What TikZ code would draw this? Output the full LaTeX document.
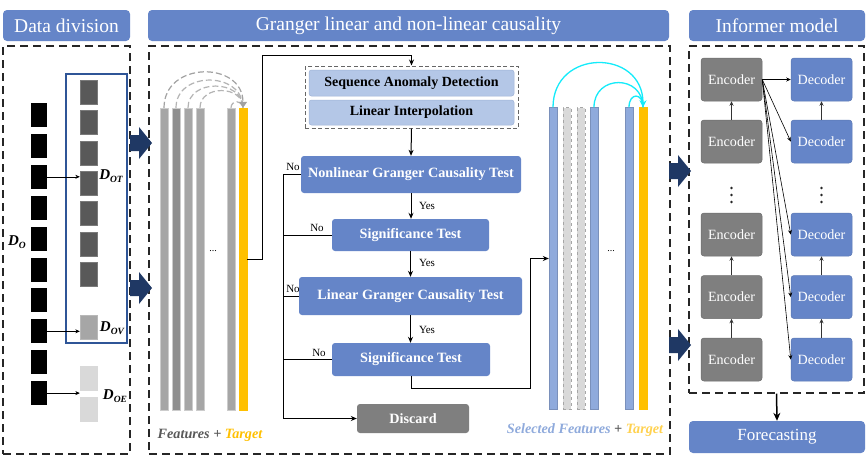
\documentclass[tikz,border=0pt]{standalone}
\usepackage{fontspec}
\setmainfont{Liberation Serif}
\usetikzlibrary{arrows.meta}
\definecolor{hdr}{RGB}{101,133,200}
\definecolor{navy}{RGB}{31,56,100}
\definecolor{lblue}{RGB}{180,199,231}
\definecolor{lbluedraw}{RGB}{160,180,215}
\definecolor{sblue}{RGB}{143,170,220}
\definecolor{gold}{RGB}{255,192,0}
\definecolor{goldl}{RGB}{255,210,80}
\definecolor{encg}{RGB}{127,127,127}
\definecolor{dgrey}{RGB}{89,89,89}
\definecolor{mgrey}{RGB}{166,166,166}
\definecolor{m2grey}{RGB}{143,143,143}
\definecolor{lgrey}{RGB}{217,217,217}
\definecolor{arcgrey}{RGB}{180,180,180}
\definecolor{boxblue}{RGB}{47,85,151}
\definecolor{cyanarc}{RGB}{20,235,250}
\begin{document}
\begin{tikzpicture}[x=1pt,y=-1pt,
  hdrbox/.style={fill=hdr, rounded corners=4pt, text=white, font=\fontsize{19.5}{22}\selectfont, inner sep=0},
  dashbox/.style={draw=black!85, line width=1.4pt, dash pattern=on 8pt off 5pt, inner sep=0},
  sqb/.style={inner sep=0, minimum width=16pt, minimum height=24pt, fill=black},
  sqg/.style={inner sep=0, minimum width=17pt, minimum height=24pt, fill=dgrey, draw=dgrey!80!white, line width=0.4pt},
  procbox/.style={fill=hdr, rounded corners=3pt, text=white, font=\fontsize{14.2}{16}\selectfont\bfseries, inner sep=0},
  prebox/.style={fill=lblue, draw=lbluedraw, line width=0.5pt, rounded corners=2.5pt, text=black, font=\fontsize{14}{16}\selectfont\bfseries, inner sep=0, minimum width=205pt},
  encbox/.style={fill=encg, draw=encg!85!black, line width=0.5pt, rounded corners=3pt, text=white, font=\fontsize{14.1}{16}\selectfont, inner sep=0, minimum width=61pt, minimum height=43pt},
  decbox/.style={fill=hdr, draw=hdr!90!black, line width=0.5pt, rounded corners=3pt, text=white, font=\fontsize{14.1}{16}\selectfont, inner sep=0, minimum width=61pt, minimum height=43pt},
  fbar/.style={inner sep=0, minimum width=8pt, minimum height=302pt, draw=black!20, line width=0.4pt},
  dlabel/.style={font=\fontsize{15}{16}\selectfont\bfseries\itshape, inner sep=0},
  small/.style={font=\fontsize{11}{12}\selectfont, inner sep=0},
  arr/.style={-{Stealth[length=6pt,width=5pt]}, line width=0.8pt},
  sarr/.style={-{Stealth[length=4.5pt,width=4pt]}, line width=0.6pt},
  flow/.style={line width=1pt}
]
\useasboundingbox (0,0) rectangle (866,464);
\fill[white] (0,0) rectangle (866,464);

% headers
\node[hdrbox, minimum width=127pt, minimum height=31pt] (h1) at (66.5,25.5) {Data division};
\node[hdrbox, minimum width=521pt, minimum height=31pt] (h2) at (408.5,25.5) {Granger linear and non-linear causality};
\node[hdrbox, minimum width=176pt, minimum height=31pt] (h3) at (777,25.5) {Informer model};

% dashed panels
\node[dashbox, minimum width=127pt, minimum height=408pt] (pl) at (66.5,250) {};
\node[dashbox, minimum width=521pt, minimum height=408pt] (pm) at (409.5,250) {};
\node[dashbox, minimum width=175pt, minimum height=347pt] (pr) at (776.5,219.5) {};

% block arrows
\foreach \cx/\cy in {130/143, 130/288, 669/171, 669/345}{
  \fill[navy] (\cx,\cy-8) -- (\cx+9,\cy-8) -- (\cx+9,\cy-16) -- (\cx+22,\cy) -- (\cx+9,\cy+16) -- (\cx+9,\cy+8) -- (\cx,\cy+8) -- cycle;
}

% ---------- Data division ----------
\node[draw=boxblue, line width=1.5pt, inner sep=0, minimum width=61pt, minimum height=269pt] (dbox) at (96.5,208.5) {};
\foreach \i in {1,...,10}{
  \node[sqb] (b\i) at (39,{115+30.9*(\i-1)}) {};
}
\foreach \i in {1,...,7}{
  \node[sqg] (g\i) at (88.5,{92+30.4*(\i-1)}) {};
}
\node[sqg, fill=mgrey, draw=mgrey!80!white] (v1) at (88.5,327) {};
\node[sqg, fill=lgrey, draw=lgrey] (e1) at (88.5,378) {};
\node[sqg, fill=lgrey, draw=lgrey] (e2) at (88.5,409) {};
\draw[sarr] (b3.east) -- (b3.east -| g4.west);
\draw[sarr] (b8.east) -- (b8.east -| v1.west);
\draw[sarr] (b10.east) -- (b10.east -| e1.west);
\node[dlabel] (lo) at (17,242) {D\raisebox{-0.35ex}{\fontsize{9.5}{10}\selectfont O}};
\node[dlabel] (lot) at (111,176) {D\raisebox{-0.35ex}{\fontsize{9.5}{10}\selectfont OT}};
\node[dlabel] (lov) at (112,328) {D\raisebox{-0.35ex}{\fontsize{9.5}{10}\selectfont OV}};
\node[dlabel] (loe) at (115,396) {D\raisebox{-0.35ex}{\fontsize{9.5}{10}\selectfont OE}};

% ---------- Granger panel: features ----------
\node[fbar, fill=mgrey] (f1) at (164,259) {};
\node[fbar, fill=m2grey] (f2) at (176,259) {};
\node[fbar, fill=mgrey] (f3) at (188,259) {};
\node[fbar, fill=mgrey] (f4) at (200,259) {};
\node[fbar, fill=mgrey] (f5) at (231,259) {};
\node[fbar, fill=gold, draw=gold] (ft) at (243,259) {};
\node[font=\fontsize{10}{10}\selectfont, inner sep=0] (fdots) at (213,251) {...};
\begin{scope}[draw=arcgrey, line width=1.2pt, dash pattern=on 6pt off 3pt]
\draw (f2.north) .. controls +(0,-37) and +(0,-37) .. (ft.north);
\draw (f3.north) .. controls +(0,-29) and +(0,-29) .. (ft.north);
\draw (f4.north) .. controls +(0,-23) and +(0,-23) .. (ft.north);
\draw (f5.north) .. controls +(0,-8) and +(0,-8) .. (ft.north);
\draw[-{Triangle[length=6pt,width=8pt]}, arcgrey!90!black] (f1.north) .. controls +(0,-47) and +(0,-47) .. (ft.north);
\end{scope}
\node[font=\fontsize{14.2}{16}\selectfont\bfseries\itshape, inner sep=0] (flab) at (210,435) {\textcolor{dgrey}{Features} \textcolor{dgrey}{+} \textcolor{gold}{Target}};

% ---------- Granger panel: process ----------
\node[dashbox, draw=black!60, line width=1pt, dash pattern=on 4pt off 2.5pt, minimum width=213pt, minimum height=62pt] (grp) at (411.5,97) {};
\node[prebox, minimum height=26pt] (sad) at (411.5,83) {Sequence Anomaly Detection};
\node[prebox, minimum height=25pt] (li) at (411.5,112.5) {Linear Interpolation};
\node[procbox, minimum width=220pt, minimum height=37pt] (ngc) at (411,174.5) {Nonlinear Granger Causality Test};
\node[procbox, minimum width=157pt, minimum height=32pt] (st1) at (410.5,235) {Significance Test};
\node[procbox, minimum width=223pt, minimum height=38pt] (lgc) at (410.5,296) {Linear Granger Causality Test};
\node[procbox, minimum width=158pt, minimum height=33pt] (st2) at (411,359.5) {Significance Test};
\node[procbox, fill=encg, minimum width=112pt, minimum height=29pt] (disc) at (413,418.5) {Discard};

\coordinate (turn) at (262,55);
\draw[arr, flow] (ft.east) -| (turn) -| (grp.north);
\draw[arr, flow] (grp.south) -- (ngc.north);
\draw[arr, flow] (ngc.south) -- (ngc.south |- st1.north);
\draw[arr, flow] (st1.south) -- (st1.south |- lgc.north);
\draw[arr, flow] (lgc.south) -- (lgc.south |- st2.north);
\node[small] (y1) at (427,206) {Yes};
\node[small] (y2) at (427,263) {Yes};
\node[small] (y3) at (427,330) {Yes};

\coordinate (nv) at (283,0);
\draw[arr, flow] (ngc.west) -- (ngc.west -| nv) |- (disc.west);
\draw[flow] (st1.west) -- (st1.west -| nv);
\draw[flow] (lgc.west) -- (lgc.west -| nv);
\draw[flow] (st2.west) -- (st2.west -| nv);
\node[small] (n1) at (293,167) {No};
\node[small] (n2) at (317,228) {No};
\node[small] (n3) at (293,289) {No};
\node[small] (n4) at (319,353) {No};

% ---------- selected features ----------
\node[fbar, fill=sblue, draw=sblue!85!black] (s1) at (553,258.5) {};
\node[fbar, fill=lgrey, draw=black!35, dashed] (d1) at (567,258.5) {};
\node[fbar, fill=lgrey, draw=black!35, dashed] (d2) at (581,258.5) {};
\node[fbar, fill=sblue, draw=sblue!85!black] (s2) at (594,258.5) {};
\node[fbar, fill=sblue, draw=sblue!85!black] (s3) at (629,258.5) {};
\node[fbar, fill=gold, draw=gold] (stg) at (643,258.5) {};
\node[font=\fontsize{10}{10}\selectfont, inner sep=0] (sdots) at (611,251) {...};
\coordinate (c1) at (530,388);
\draw[arr, flow] (st2.south) |- (c1) |- (s1.west);
\begin{scope}[draw=cyanarc, line width=1.3pt]
\draw (s2.north) .. controls +(0,-33) and +(0,-33) .. (stg.north);
\draw (s3.north) .. controls +(0,-15) and +(0,-15) .. (stg.north);
\draw[-{Stealth[length=7pt,width=7pt]}, cyanarc] (s1.north) .. controls +(0,-59) and +(0,-59) .. (stg.north);
\end{scope}
\node[font=\fontsize{14.2}{16}\selectfont\bfseries\itshape, inner sep=0] (slab) at (585,430) {\textcolor{sblue}{Selected Features} \textcolor{dgrey}{+} \textcolor{goldl}{Target}};

% ---------- Informer ----------
\node[encbox] (en1) at (731.5,79.5) {Encoder};
\node[encbox] (en2) at (731.5,141.5) {Encoder};
\node[encbox] (en3) at (731.5,234.5) {Encoder};
\node[encbox] (en4) at (731.5,297) {Encoder};
\node[encbox] (en5) at (731.5,359.5) {Encoder};
\node[decbox] (de1) at (821.5,79.5) {Decoder};
\node[decbox] (de2) at (821.5,141.5) {Decoder};
\node[decbox] (de3) at (821.5,234.5) {Decoder};
\node[decbox] (de4) at (821.5,297) {Decoder};
\node[decbox] (de5) at (821.5,359.5) {Decoder};
\foreach \xx in {731.5, 821.5}{
  \foreach \yy in {188, 195, 202}{
    \fill[black!85] (\xx,\yy) circle (1.3pt);
  }
}
\foreach \a/\b in {en2/en1, en5/en4, en4/en3, de2/de1, de5/de4, de4/de3}{
  \draw[sarr, black!80] (\a.north) -- (\b.south);
}
\foreach \d in {de1,de2,de3,de4,de5}{
  \draw[sarr] (en1.east) -- (\d.west);
}
\node[hdrbox, font=\fontsize{17}{20}\selectfont, minimum width=176pt, minimum height=32pt] (fc) at (777,437) {Forecasting};
\draw[-{Stealth[length=8pt,width=7pt]}, line width=1.5pt] (pr.south) -- (fc.north);
\end{tikzpicture}
\end{document}
